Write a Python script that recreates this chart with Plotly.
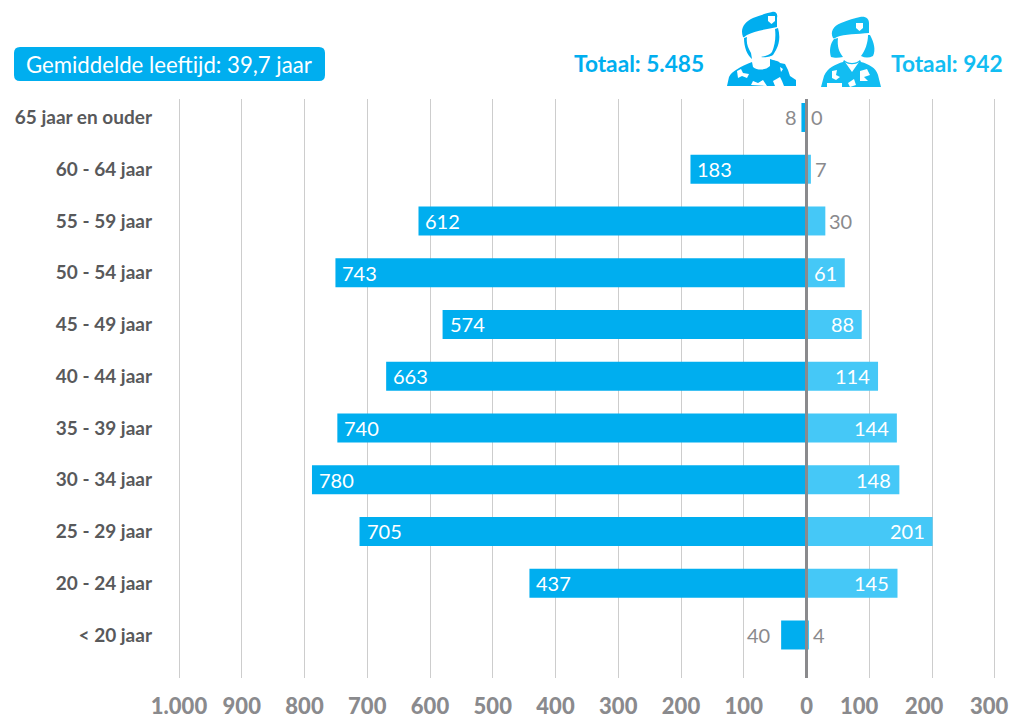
import base64
import plotly.graph_objects as go

categories = ["< 20 jaar", "20 - 24 jaar", "25 - 29 jaar", "30 - 34 jaar", "35 - 39 jaar", "40 - 44 jaar",
              "45 - 49 jaar", "50 - 54 jaar", "55 - 59 jaar", "60 - 64 jaar", "65 jaar en ouder"]
men = [40, 437, 705, 780, 740, 663, 574, 743, 612, 183, 8]
women = [4, 145, 201, 148, 144, 114, 88, 61, 30, 7, 0]
tick_values = [-1000, -900, -800, -700, -600, -500, -400, -300, -200, -100, 0]
tick_labels = ["1.000", "900", "800", "700", "600", "500", "400", "300", "200", "100", "0"]
right_tick_values = [100, 200, 300]
right_tick_labels = ["100", "200", "300"]

W, H = 1012, 719
L, R, T, B = 160, 1008, 99, 678
BLUE, LIGHT = "#00aeef", "#45c8f7"
GREY = "#8a8a8d"
FONT = "Lato"

def px(x): return (x - L) / (R - L)
def py(y): return (B - y) / (B - T)

# grid axis: 0 at 806.5, 0.6275 px/unit; men's bars drawn 0.634 px/unit as in the source
a0, s = 806.5, 0.6275
rng = [(L - a0) / s, (R - a0) / s]
sm = 0.634
rngm = [(L - a0) / sm, (R - a0) / sm]

ys = list(range(len(categories)))
fig = go.Figure()
fig.add_bar(x=women, y=ys, orientation="h", width=0.56, marker=dict(color=LIGHT, line_width=0), xaxis="x", hoverinfo="skip")
fig.add_bar(x=[-v for v in men], y=ys, orientation="h", width=0.56, marker=dict(color=BLUE, line_width=0), xaxis="x2", hoverinfo="skip")

anns = []
for y, v in zip(ys, men):
    inside = v > 100
    anns.append(dict(x=-v, y=y, xref="x2", yref="y", text=str(v), showarrow=False,
                     xanchor="left" if inside else "right", xshift=5 if inside else (-9 if v == 40 else -2),
                     font=dict(family=FONT, size=20, color="white" if inside else GREY)))
for y, v in zip(ys, women):
    inside = v > 50
    anns.append(dict(x=v, y=y, xref="x", yref="y", text=str(v), showarrow=False,
                     xanchor="right" if inside else "left", xshift=-6 if inside else 2,
                     font=dict(family=FONT, size=20, color="white" if inside else GREY)))
for v, t, shift in zip(right_tick_values, right_tick_labels, [-10, -7.5, -5]):
    anns.append(dict(x=v, y=py(705), xref="x", yref="paper", text=t, showarrow=False, xanchor="center", yanchor="middle",
                     xshift=shift, font=dict(family=FONT, size=22, color=GREY, weight=900)))
anns += [
    dict(x=px(24), y=py(64), xref="paper", yref="paper", text="Gemiddelde leeftijd: 39,7 jaar", showarrow=False,
         xanchor="left", yanchor="middle", font=dict(family=FONT, size=22.2, color="white")),
    dict(x=px(706), y=py(63), xref="paper", yref="paper", text="<b>Totaal: 5.485</b>", showarrow=False,
         xanchor="right", yanchor="middle", font=dict(family=FONT, size=22.7, color=BLUE)),
    dict(x=px(889), y=py(63), xref="paper", yref="paper", text="<b>Totaal: 942</b>", showarrow=False,
         xanchor="left", yanchor="middle", font=dict(family=FONT, size=22.7, color="#12bdf2")),
]

box = f"M {px(20)} {py(47)} L {px(319)} {py(47)} Q {px(325)} {py(47)} {px(325)} {py(53)} L {px(325)} {py(75)} " \
      f"Q {px(325)} {py(81)} {px(319)} {py(81)} L {px(20)} {py(81)} Q {px(14)} {py(81)} {px(14)} {py(75)} " \
      f"L {px(14)} {py(53)} Q {px(14)} {py(47)} {px(20)} {py(47)} Z"
shapes = [
    dict(type="path", path=box, xref="paper", yref="paper", fillcolor=BLUE, line_width=0),
    dict(type="line", x0=0, x1=0, y0=0, y1=1, xref="x", yref="paper", line=dict(color=GREY, width=3), layer="above"),
]

man_svg = """<svg xmlns='http://www.w3.org/2000/svg' viewBox='0 0 80 90'>
<path fill='#00aeef' d='M23 32 C20 24 24 17 33 13 C40 10 48 8 52 7 C56 6 58 9 57 13 L57 22 C48 24 34 26 27 30 C25 31 24 33 23 32 Z'/>
<path fill='#ffffff' d='M48 11 L55 11 L55 16 L51.5 19 L48 16 Z'/>
<path fill='#00aeef' d='M24 33 L27 32 C26 38 28 43 31 48 L32 54 C27 50 24 42 24 33 Z M55 24 L58 23 C60 30 60 38 56 45 L53 50 C52 51 46 53 41 52 C46 51 50 50 52 47 C55 40 56 32 55 24 Z'/>
<path fill='#00aeef' d='M7 81 L9 72 C12 66 20 62 32 57 L33 62 C38 66 46 65 50 61 L50 54 C54 56 58 55 60 58 L65 59 L68 65 L70 71 L76 75 L76 81 Z'/>
<path fill='#ffffff' d='M17 66 L21 64 L23 68 L29 69 L27 73 L22 71 L18 73 Z M31 80 L33 76 L38 78 L43 75 L47 81 Z M53 76 L60 72 L62 76 L64 81 L55 81 Z M60 62 L63 64 L61 67 Z'/>
</svg>"""
woman_svg = """<svg xmlns='http://www.w3.org/2000/svg' viewBox='0 0 80 90'>
<path fill='#12bdf2' d='M21 33 C18 27 21 21 29 18 C36 15 43 13 48 12 C54 11 57 14 57 18 L57 28 C46 29 32 29 25 32 C23 33 22 34 21 33 Z'/>
<path fill='#ffffff' d='M44 18 L51 18 L51 23 L47.5 26 L44 23 Z'/>
<path fill='#12bdf2' d='M22 34 L26 33 C25 41 27 47 31 52 C27 53 22 53 19 52 C17 46 18 39 22 34 Z M56 30 L58 30 C62 37 64 45 61 51 C57 53 53 53 49 51 C53 46 56 38 56 30 Z'/>
<path fill='#12bdf2' d='M9 82 L12 71 C15 63 24 59 31 57 L32 55 C36 59 44 59 48 55 L49 57 C57 59 64 63 66 70 L69 82 Z'/>
<path fill='#ffffff' d='M33 57 C36 60 44 60 47 57 L40 67 Z M15 78 L30 78 L30 82 L15 82 Z M20 66 L25 65 L24 70 L28 72 L24 75 L20 73 Z M48 66 L55 64 L58 70 L52 72 L56 76 L48 76 Z M36 78 L42 74 L44 80 L38 82 Z'/>
</svg>"""

def uri(s): return "data:image/svg+xml;base64," + base64.b64encode(s.encode()).decode()
images = [
    dict(source=uri(man_svg), xref="paper", yref="paper", x=px(720), y=py(5), sizex=80 / (R - L), sizey=90 / (B - T),
         xanchor="left", yanchor="top", sizing="stretch", layer="above"),
    dict(source=uri(woman_svg), xref="paper", yref="paper", x=px(812), y=py(5), sizex=80 / (R - L), sizey=90 / (B - T),
         xanchor="left", yanchor="top", sizing="stretch", layer="above"),
]

fig.update_layout(
    width=W, height=H, autosize=False, showlegend=False, barmode="overlay",
    paper_bgcolor="white", plot_bgcolor="white",
    margin=dict(l=L, r=W - R, t=T, b=H - B, pad=0, autoexpand=False),
    xaxis=dict(range=rng, tickmode="array", tickvals=tick_values + right_tick_values, ticktext=tick_labels + [" "] * 3,
               showgrid=True, automargin=False,
               gridcolor="#cdcdcd", gridwidth=1.2, zeroline=False, showline=False, ticks="",
               tickfont=dict(family=FONT, size=22, color=GREY, weight=900), ticklabelstandoff=13),
    xaxis2=dict(range=rngm, overlaying="x", visible=False, showgrid=False, zeroline=False, automargin=False),
    yaxis=dict(range=[-0.831, 10.357], tickmode="array", tickvals=ys, ticktext=categories, showgrid=False,
               automargin=False, zeroline=False, showline=False, ticks="", ticklabelstandoff=7,
               tickfont=dict(family=FONT, size=19, color="#58595b", weight="bold")),
    annotations=anns, shapes=shapes, images=images,
)
fig.write_html("out.html", config={"displayModeBar": False},
               post_script="document.body.style.margin='0';document.documentElement.style.overflow='hidden';")
